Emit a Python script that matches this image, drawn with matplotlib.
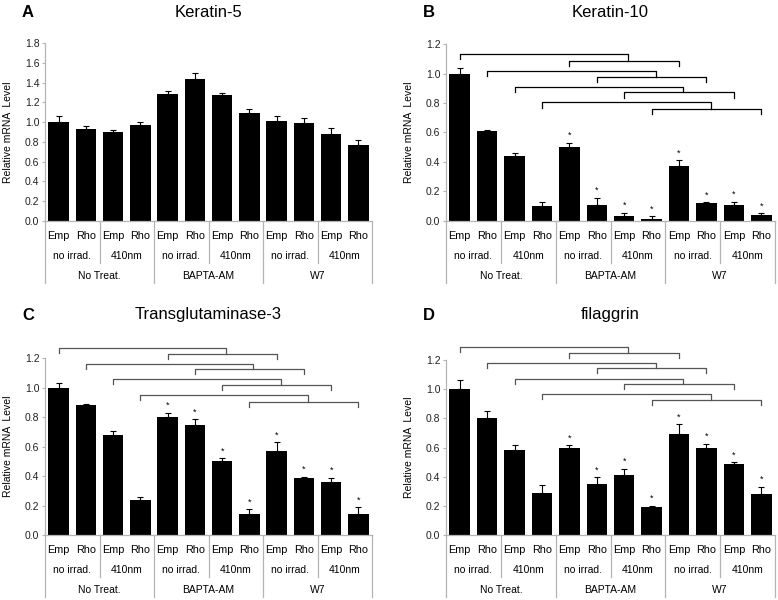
"""Four-panel relative mRNA bar charts with multi-level category axis."""

import matplotlib
matplotlib.use("Agg")
import matplotlib.pyplot as plt
import numpy as np

plt.rcParams["font.family"] = ["Liberation Sans", "DejaVu Sans"]

FIG_W, FIG_H = 778, 600
GRID_GRAY = "#b4b4b4"

bar_labels = ["Emp", "Rho"] * 6
irrad_labels = ["no irrad.", "410nm"] * 3
treat_labels = ["No Treat.", "BAPTA-AM", "W7"]

krt5_mean = [1.00, 0.93, 0.90, 0.97, 1.29, 1.44, 1.28, 1.09, 1.01, 0.99, 0.88, 0.77]
krt5_err = [0.06, 0.03, 0.02, 0.03, 0.03, 0.06, 0.02, 0.04, 0.05, 0.05, 0.06, 0.05]

krt10_mean = [1.00, 0.61, 0.44, 0.10, 0.50, 0.11, 0.03, 0.01, 0.37, 0.12, 0.11, 0.04]
krt10_err = [0.04, 0.01, 0.02, 0.03, 0.03, 0.045, 0.025, 0.02, 0.04, 0.005, 0.02, 0.01]

tgm3_mean = [1.00, 0.88, 0.68, 0.24, 0.80, 0.75, 0.50, 0.14, 0.57, 0.39, 0.36, 0.145]
tgm3_err = [0.03, 0.01, 0.025, 0.02, 0.03, 0.035, 0.02, 0.035, 0.06, 0.005, 0.03, 0.045]

flg_mean = [1.00, 0.80, 0.58, 0.29, 0.60, 0.35, 0.41, 0.19, 0.69, 0.60, 0.49, 0.28]
flg_err = [0.06, 0.05, 0.035, 0.05, 0.015, 0.045, 0.045, 0.01, 0.07, 0.025, 0.01, 0.05]

star_bars = [4, 5, 6, 7, 8, 9, 10, 11]

# (outer, inner) bracket heights, top to bottom
krt10_brackets = [(1.132, 1.088), (1.020, 0.980), (0.912, 0.873), (0.805, 0.760)]
tgm3_brackets = [(1.272, 1.232), (1.164, 1.126), (1.058, 1.017), (0.949, 0.903)]
flg_brackets = [(1.292, 1.248), (1.182, 1.143), (1.072, 1.034), (0.965, 0.924)]


def px_rect(left, right, top, bottom):
    return [left / FIG_W, 1 - bottom / FIG_H, (right - left) / FIG_W, (bottom - top) / FIG_H]


def fig_text(fig, x, y, s, **kw):
    fig.text(x / FIG_W, 1 - y / FIG_H, s, **kw)


def draw_categories(ax, h_px):
    """Excel-like three-row category axis below the plot."""
    trans = ax.get_xaxis_transform()
    x = np.arange(len(bar_labels))
    for xi, lab in zip(x, bar_labels):
        ax.text(xi, -15 / h_px, lab, transform=trans, ha="center", va="center",
                fontsize=7.8, clip_on=False)
    for i, lab in enumerate(irrad_labels):
        ax.text(2 * i + 0.5, -35 / h_px, lab, transform=trans, ha="center",
                va="center", fontsize=7.5, clip_on=False)
    for i, lab in enumerate(treat_labels):
        ax.text(4 * i + 1.5, -55 / h_px, lab, transform=trans, ha="center",
                va="center", fontsize=7.5, clip_on=False)
    for xs in [-0.5, 3.5, 7.5, 11.5]:
        ax.plot([xs, xs], [0, -62 / h_px], transform=trans, color=GRID_GRAY,
                lw=0.9, clip_on=False)
    for xs in [1.5, 5.5, 9.5]:
        ax.plot([xs, xs], [0, -42 / h_px], transform=trans, color=GRID_GRAY,
                lw=0.9, clip_on=False)


def draw_brackets(ax, levels, color, tick=0.035):
    for i, (y_out, y_in) in enumerate(levels):
        a, b, c = i, i + 4, i + 8
        mid = (b + c) / 2 + 0.15
        ax.plot([a, a, mid, mid], [y_out - tick, y_out, y_out, y_in],
                color=color, lw=0.9, clip_on=False)
        ax.plot([b, b, c, c], [y_in - tick, y_in, y_in, y_in - tick],
                color=color, lw=0.9, clip_on=False)


def panel(fig, rect_px, title, letter, mean, err, ymax, stars=None,
          brackets=None, bracket_color="black"):
    left, right, top, bottom = rect_px
    ax = fig.add_axes(px_rect(*rect_px))
    h_px = bottom - top
    x = np.arange(len(mean))
    ax.bar(x, mean, width=0.75, color="black")
    ax.errorbar(x, mean, yerr=[np.zeros(len(err)), err], fmt="none",
                ecolor="black", elinewidth=0.8, capsize=2.5, capthick=0.8)
    if stars:
        for b in stars:
            ax.annotate("*", (b, mean[b] + err[b]), xytext=(0, 2),
                        textcoords="offset points", ha="center", va="bottom",
                        fontsize=6.5)
    if brackets:
        draw_brackets(ax, brackets, bracket_color)

    ax.set_xlim(-0.5, 11.5)
    ax.set_ylim(0, ymax)
    ax.set_yticks(np.arange(0, ymax + 0.01, 0.2))
    ax.set_yticklabels([f"{t:.1f}" for t in np.arange(0, ymax + 0.01, 0.2)])
    ax.set_xticks([])
    ax.tick_params(axis="y", labelsize=7.5, length=2.5, width=0.8,
                   color=GRID_GRAY, pad=1.5, labelcolor="#222222")
    for side in ["top", "right"]:
        ax.spines[side].set_visible(False)
    for side in ["left", "bottom"]:
        ax.spines[side].set_color(GRID_GRAY)
        ax.spines[side].set_linewidth(0.9)
    draw_categories(ax, h_px)

    yl_y = (top + bottom) / 2
    fig_text(fig, left - 37, yl_y, "Relative mRNA  Level", rotation=90,
             ha="center", va="center", fontsize=7.5)
    title_y = 12.5 if top < 300 else 315
    fig_text(fig, (left + right) / 2, title_y, title, ha="center", va="center",
             fontsize=12)
    fig_text(fig, left - 17, title_y, letter, ha="center", va="center",
             fontsize=12, fontweight="bold")
    return ax


fig = plt.figure(figsize=(FIG_W / 100, FIG_H / 100), dpi=100)
fig.patch.set_facecolor("white")

panel(fig, (45, 372, 43.3, 220.7), "Keratin-5", "A", krt5_mean, krt5_err, 1.8)
panel(fig, (446, 775, 44.3, 220.7), "Keratin-10", "B", krt10_mean, krt10_err,
      1.2, stars=star_bars, brackets=krt10_brackets, bracket_color="black")
panel(fig, (45, 372, 358.3, 535), "Transglutaminase-3", "C", tgm3_mean,
      tgm3_err, 1.2, stars=star_bars, brackets=tgm3_brackets,
      bracket_color="#555555")
panel(fig, (446, 775, 360, 535), "filaggrin", "D", flg_mean, flg_err, 1.2,
      stars=star_bars, brackets=flg_brackets, bracket_color="#555555")

fig.savefig("out.png", dpi=100)
